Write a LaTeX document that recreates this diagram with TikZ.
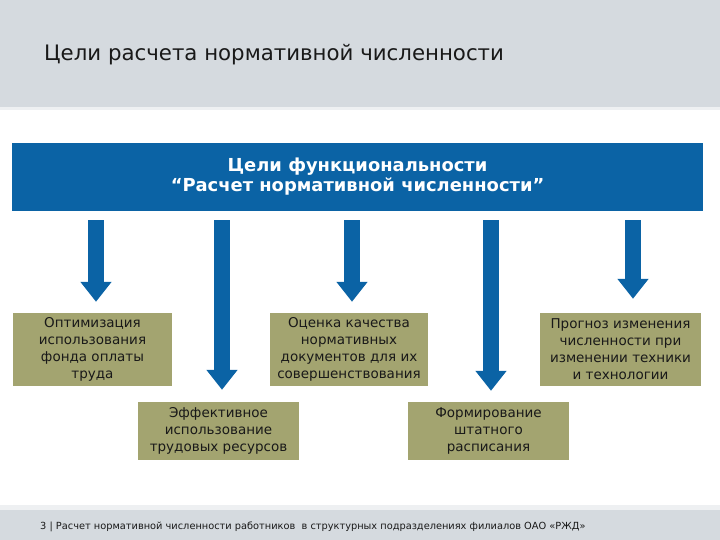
\documentclass[tikz,border=0pt]{standalone}
\usepackage{fontspec}
\setmainfont{DejaVu Sans}
\usetikzlibrary{positioning,arrows.meta,calc}
\definecolor{hdrgray}{RGB}{213,218,223}
\definecolor{goalblue}{RGB}{11,99,165}
\definecolor{boxolive}{RGB}{163,164,112}
\tikzset{
  x=1pt,y=-1pt,
  goalbar/.style={fill=goalblue,text=white,align=center,inner sep=0pt,
    minimum width=691pt,minimum height=68pt,
    font=\bfseries\fontsize{17.9}{20}\selectfont},
  aimbox/.style={fill=boxolive,align=center,inner sep=0pt,text=black!90,
    minimum height=73pt,font=\fontsize{13.5}{17}\selectfont},
  aimboxlow/.style={aimbox,minimum height=58pt},
  downarrow/.style={-{Triangle[width=30pt,length=20pt]},line width=16pt,
    draw=goalblue},
}
\begin{document}
\begin{tikzpicture}
  \useasboundingbox (0,0) rectangle (720,540);
  % header and footer bands
  \fill[hdrgray] (0,0) rectangle (720,107);
  \fill[hdrgray!40] (0,107) rectangle (720,110);
  \node[anchor=west,inner sep=0pt,font=\fontsize{21.3}{25}\selectfont,
    text=black!90] (title) at (44,55) {Цели расчета нормативной численности};
  \fill[hdrgray!40] (0,505) rectangle (720,510);
  \fill[hdrgray] (0,510) rectangle (720,540);
  \node[anchor=west,inner sep=0pt,font=\fontsize{9.8}{11}\selectfont,
    text=black!90] (foot) at (40,527)
    {3 | Расчет нормативной численности работников \ в структурных подразделениях филиалов ОАО «РЖД»};
  % goal bar
  \node[goalbar] (goal) at (357.5,177)
    {Цели функциональности\\“Расчет нормативной численности”};
  % goal boxes
  \node[aimbox,minimum width=159pt] (opt) at (92.5,349.5)
    {Оптимизация\\использования\\фонда оплаты\\труда};
  \node[aimbox,minimum width=158pt] (qual) at (349,349.5)
    {Оценка качества\\нормативных\\документов для их\\совершенствования};
  \node[aimbox,minimum width=161pt] (fcst) at (620.5,349.5)
    {Прогноз изменения\\численности при\\изменении техники\\и технологии};
  \node[aimboxlow,minimum width=161pt] (eff) at (218.5,431)
    {Эффективное\\использование\\трудовых ресурсов};
  \node[aimboxlow,minimum width=161pt] (staff) at (488.5,431)
    {Формирование\\штатного\\расписания};
  % arrows
  \draw[downarrow] ([yshift=-9pt]goal.south -| 96,0) -- ([yshift=11pt]opt.north -| 96,0);
  \draw[downarrow] ([yshift=-9pt]goal.south -| 222,0) -- ([yshift=12pt]eff.north -| 222,0);
  \draw[downarrow] ([yshift=-9pt]goal.south -| 352,0) -- ([yshift=11pt]qual.north -| 352,0);
  \draw[downarrow] ([yshift=-9pt]goal.south -| 491,0) -- ([yshift=11pt]staff.north -| 491,0);
  \draw[downarrow] ([yshift=-9pt]goal.south -| 633,0) -- ([yshift=14pt]fcst.north -| 633,0);
\end{tikzpicture}
\end{document}
